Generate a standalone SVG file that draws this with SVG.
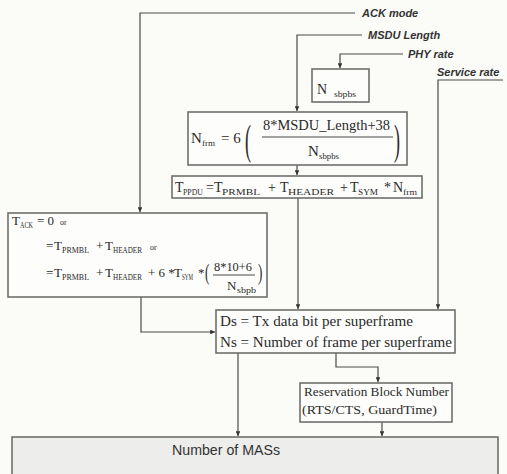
<svg xmlns="http://www.w3.org/2000/svg" width="507" height="474" viewBox="0 0 507 474">
<style>
.bg{fill:#fbfbf8}
.box{fill:#fdfdfb;stroke:#6e6e6e;stroke-width:1.6}
.mas{fill:#ededeb;stroke:#6e6e6e;stroke-width:1.6}
.c{fill:none;stroke:#4a4a4a;stroke-width:1.2;marker-end:url(#ah)}
.cl{fill:none;stroke:#4a4a4a;stroke-width:1.2}
.lbl{font-family:"Liberation Sans",Arial,sans-serif;font-style:italic;font-weight:bold;font-size:11px;fill:#333}
.m{font-family:"Liberation Serif","Times New Roman",serif;font-size:14px;fill:#2a2a2a}
.s{font-family:"Liberation Serif","Times New Roman",serif;font-size:8px;fill:#2a2a2a}
.sm{font-family:"Liberation Serif","Times New Roman",serif;font-size:13px;fill:#2a2a2a}
.t{font-family:"Liberation Serif","Times New Roman",serif;font-size:15px;fill:#2a2a2a}
.sans{font-family:"Liberation Sans",Arial,sans-serif;font-size:14px;fill:#333}
</style>
<defs>
<marker id="ah" viewBox="0 0 6 6" refX="6" refY="3" markerWidth="4" markerHeight="4" orient="auto"><path d="M0,0 L6,3 L0,6 z" fill="#333"/></marker>
</defs>
<rect class="bg" x="0" y="0" width="507" height="474"/>

<g id="connectors">
<polyline class="c" points="355,13 140,13 140,212"/>
<polyline class="c" points="362,35 297,35 297,111"/>
<polyline class="c" points="403,54 340,54 340,68"/>
<polyline class="c" points="503,80 438,80 438,309"/>
<polyline class="c" points="297,165 297,175"/>
<polyline class="c" points="298,198 298,309"/>
<polyline class="c" points="141,297 141,332 215,332"/>
<polyline class="c" points="238,353 238,436"/>
<polyline class="c" points="336,353 336,367 378,367 378,382"/>
<polyline class="c" points="382,422 382,436"/>
</g>

<g id="inputs">
<text class="lbl" x="362" y="17">ACK mode</text>
<text class="lbl" x="368" y="39">MSDU Length</text>
<text class="lbl" x="408" y="58">PHY rate</text>
<text class="lbl" x="437" y="76">Service rate</text>
</g>

<g id="n-sbpbs">
<rect class="box" x="312" y="69" width="57" height="33"/>
<text class="m" x="317" y="94" font-size="20">N</text>
<text class="s" x="334" y="97" font-size="7" textLength="22" lengthAdjust="spacingAndGlyphs">sbpbs</text>
</g>

<g id="n-frm">
<rect class="box" x="188" y="112" width="219" height="53"/>
<text class="t" x="191" y="143">N</text>
<text class="s" x="202" y="146" textLength="13" lengthAdjust="spacingAndGlyphs">frm</text>
<text class="t" x="221" y="143">= 6</text>
<text class="t" transform="translate(245,153.5) scale(1.2,2.8)">(</text>
<text class="t" x="263" y="130" textLength="127" lengthAdjust="spacingAndGlyphs">8*MSDU_Length+38</text>
<line class="cl" x1="262" y1="137" x2="393" y2="137"/>
<text class="t" x="308" y="156">N</text>
<text class="s" x="319" y="159" textLength="20" lengthAdjust="spacingAndGlyphs">sbpbs</text>
<text class="t" transform="translate(394,153.5) scale(1.2,2.8)">)</text>
</g>

<g id="t-ppdu">
<rect class="box" x="172" y="176" width="250" height="22"/>
<text class="m" x="175" y="192">T</text>
<text class="s" x="183" y="195" textLength="20" lengthAdjust="spacingAndGlyphs">PPDU</text>
<text class="m" x="206" y="192">=</text>
<text class="m" x="214" y="192">T</text>
<text class="s" x="222" y="195" textLength="38" lengthAdjust="spacingAndGlyphs">PRMBL</text>
<text class="m" x="268" y="192">+</text>
<text class="m" x="280" y="192">T</text>
<text class="s" x="288" y="195" textLength="46" lengthAdjust="spacingAndGlyphs">HEADER</text>
<text class="m" x="340" y="192">+</text>
<text class="m" x="350" y="192">T</text>
<text class="s" x="358" y="195" textLength="20" lengthAdjust="spacingAndGlyphs">SYM</text>
<text class="m" x="384" y="192">*</text>
<text class="m" x="393" y="192">N</text>
<text class="s" x="403" y="195" textLength="14" lengthAdjust="spacingAndGlyphs">frm</text>
</g>

<g id="t-ack">
<rect class="box" x="8" y="213" width="259" height="84"/>
<text class="sm" x="12" y="225">T</text>
<text class="s" x="20" y="228" font-size="7" textLength="13" lengthAdjust="spacingAndGlyphs">ACK</text>
<text class="sm" x="37" y="225">= 0</text>
<text class="s" x="60" y="225" font-size="8">or</text>
<text class="sm" x="46" y="250">=</text>
<text class="sm" x="54" y="250">T</text>
<text class="s" x="62" y="253" font-size="7" textLength="27" lengthAdjust="spacingAndGlyphs">PRMBL</text>
<text class="sm" x="96" y="250">+</text>
<text class="sm" x="105" y="250">T</text>
<text class="s" x="113" y="253" font-size="7" textLength="29" lengthAdjust="spacingAndGlyphs">HEADER</text>
<text class="s" x="150" y="250" font-size="8">or</text>
<text class="sm" x="46" y="277">=</text>
<text class="sm" x="54" y="277">T</text>
<text class="s" x="62" y="280" font-size="7" textLength="27" lengthAdjust="spacingAndGlyphs">PRMBL</text>
<text class="sm" x="96" y="277">+</text>
<text class="sm" x="105" y="277">T</text>
<text class="s" x="113" y="280" font-size="7" textLength="29" lengthAdjust="spacingAndGlyphs">HEADER</text>
<text class="sm" x="148" y="277">+ 6 *</text>
<text class="sm" x="174" y="277">T</text>
<text class="s" x="182" y="280" font-size="7" textLength="11" lengthAdjust="spacingAndGlyphs">SYM</text>
<text class="sm" x="198" y="277">*</text>
<text class="sm" transform="translate(205,280) scale(1,1.7)">(</text>
<text class="sm" x="214" y="271" textLength="38" lengthAdjust="spacingAndGlyphs">8*10+6</text>
<line class="cl" x1="213" y1="275" x2="255" y2="275"/>
<text class="sm" x="227" y="290">N</text>
<text class="s" x="237" y="293" font-size="7" textLength="19" lengthAdjust="spacingAndGlyphs">sbpb</text>
<text class="sm" transform="translate(258,280) scale(1,1.7)">)</text>
</g>

<g id="ds-ns">
<rect class="box" x="216" y="310" width="239" height="43"/>
<text class="t" x="220" y="326" textLength="193" lengthAdjust="spacingAndGlyphs">Ds = Tx data bit per superframe</text>
<text class="t" x="220" y="347" textLength="232" lengthAdjust="spacingAndGlyphs">Ns = Number of frame per superframe</text>
</g>

<g id="reservation">
<rect class="box" x="300" y="383" width="152" height="39"/>
<text class="sm" x="304" y="396" textLength="145" lengthAdjust="spacingAndGlyphs">Reservation Block Number</text>
<text class="sm" x="302" y="414" textLength="135" lengthAdjust="spacingAndGlyphs">(RTS/CTS, GuardTime)</text>
</g>

<g id="mas">
<rect class="mas" x="12" y="437" width="486" height="50"/>
<text class="sans" x="172" y="455" textLength="108" lengthAdjust="spacingAndGlyphs">Number of MASs</text>
</g>
</svg>
